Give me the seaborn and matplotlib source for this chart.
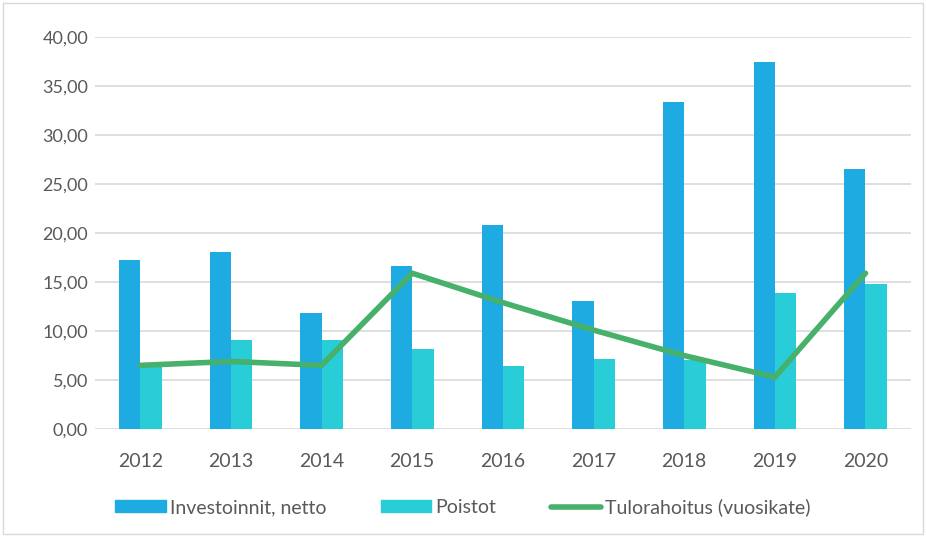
import pandas as pd
import matplotlib.pyplot as plt
import seaborn as sns
from matplotlib.patches import Rectangle, Patch
from matplotlib.lines import Line2D
from matplotlib.ticker import FuncFormatter

# data
years = ['2012', '2013', '2014', '2015', '2016', '2017', '2018', '2019', '2020']
investoinnit = [17.3, 18.1, 11.8, 16.6, 20.8, 13.1, 33.4, 37.5, 26.5]
poistot = [6.4, 9.1, 9.1, 8.2, 6.4, 7.1, 7.0, 13.9, 14.8]
tulorahoitus = [6.5, 6.9, 6.5, 15.9, 12.9, 10.1, 7.5, 5.3, 15.9]

series_names = ['Investoinnit, netto', 'Poistot']
colors = ['#1EABE2', '#28CDD7']
line_color = '#47B06B'
text_color = '#595959'

df = pd.DataFrame({
    'vuosi': years * 2,
    'arvo': investoinnit + poistot,
    'sarja': [series_names[0]] * len(years) + [series_names[1]] * len(years),
})

sns.set_style('white')
plt.rcParams['font.family'] = ['Lato', 'DejaVu Sans']

fig = plt.figure(figsize=(9.26, 5.37), dpi=100)
ax = fig.add_axes([0.1026, 0.201, 0.881, 0.730])

sns.barplot(data=df, x='vuosi', y='arvo', hue='sarja', palette=colors,
            width=0.47, gap=0, errorbar=None, saturation=1, ax=ax, legend=False,
            linewidth=0, zorder=2)
sns.pointplot(x=years, y=tulorahoitus, color=line_color, markers='',
              linestyles='-', errorbar=None, ax=ax, zorder=3)
for ln in ax.lines:
    ln.set_linewidth(4)
    ln.set_solid_capstyle('round')
    ln.set_solid_joinstyle('miter')

ax.set_xlim(-0.5, 8.5)
ax.set_ylim(0, 40)
ax.set_yticks(range(0, 41, 5))
ax.yaxis.set_major_formatter(FuncFormatter(lambda v, p: f'{v:.2f}'.replace('.', ',')))
ax.grid(axis='y', color='#D9D9D9', linewidth=1.2, zorder=0)
ax.set_axisbelow(True)
for s in ax.spines.values():
    s.set_visible(False)
ax.tick_params(axis='both', length=0, colors=text_color)
ax.tick_params(axis='x', pad=17, labelsize=14)
ax.tick_params(axis='y', pad=5, labelsize=13)
ax.set_xlabel('')
ax.set_ylabel('')

handles = [Patch(color=colors[0]), Patch(color=colors[1]),
           Line2D([0], [0], color=line_color, linewidth=4, solid_capstyle='round')]
labels = series_names + ['Tulorahoitus (vuosikate)']
fig.legend(handles, labels, loc='center', bbox_to_anchor=(0.5, 0.056), ncol=3,
           frameon=False, fontsize=14, labelcolor=text_color,
           handlelength=2.6, handleheight=0.5, handletextpad=0.2, columnspacing=2.8)

# light frame around the chart area
fig.patches.append(Rectangle((0.003, 0.005), 0.994, 0.99, transform=fig.transFigure,
                             fill=False, edgecolor='#D9D9D9', linewidth=1))

fig.savefig('out.png', dpi=100)
